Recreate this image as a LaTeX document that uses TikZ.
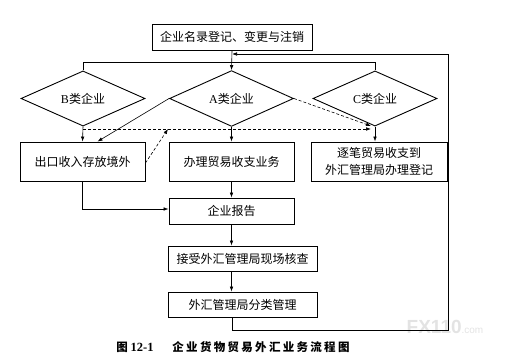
\documentclass[tikz,border=0pt]{standalone}
\usepackage{fontspec}
\setmainfont{Noto Sans CJK SC}
\newfontfamily\lat{Liberation Serif}
\newfontfamily\wm{Liberation Sans}
\usetikzlibrary{shapes.geometric,arrows.meta}
\begin{document}
\begin{tikzpicture}[x=1pt,y=-1pt,
  box/.style={draw,line width=0.9pt,inner sep=0pt,font=\fontsize{12}{17}\selectfont,align=center},
  dia/.style={draw,line width=0.9pt,diamond,inner sep=0pt,minimum width=124pt,minimum height=47pt,font=\fontsize{12}{14}\selectfont},
  conn/.style={line width=0.6pt},
  arr/.style={conn,-{Latex[length=5pt,width=3.6pt]}},
  darr/.style={arr,dash pattern=on 3pt off 2pt}]
\useasboundingbox (0,0) rectangle (511,361);
\node[text=gray!22,font=\wm] (wmk) at (445,327) {{\fontsize{19}{19}\selectfont\bfseries FX110}{\fontsize{10}{10}\selectfont.com}};
\node[box,minimum width=160pt,minimum height=26pt] (top) at (232,37) {企业名录登记、变更与注销};
\node[dia] (B) at (83,98.5) {{\lat B}类企业};
\node[dia] (A) at (231.5,98.5) {{\lat A}类企业};
\node[dia] (C) at (375,98.5) {{\lat C}类企业};
\node[box,minimum width=125pt,minimum height=39pt] (ex) at (82.5,161.5) {出口收入存放境外};
\node[box,minimum width=125pt,minimum height=39pt] (biz) at (231.5,161.5) {办理贸易收支业务};
\node[box,minimum width=136pt,minimum height=39pt] (reg) at (379,161.5) {逐笔贸易收支到\\外汇管理局办理登记};
\node[box,minimum width=125pt,minimum height=26pt] (rep) at (231.5,211) {企业报告};
\node[box,minimum width=149pt,minimum height=25pt] (chk) at (242.5,258.5) {接受外汇管理局现场核查};
\node[box,minimum width=149pt,minimum height=25pt] (mgt) at (242.5,304.5) {外汇管理局分类管理};
\node[font=\fontsize{11.5}{13}\selectfont\bfseries] (capl) at (135,347) {图 {\lat\bfseries\fontsize{12.5}{13}\selectfont 12-1}};
\node[font=\fontsize{11.5}{13}\selectfont\bfseries\addfontfeature{LetterSpace=20}] (capr) at (261,347) {企业货物贸易外汇业务流程图};
% connectors
\coordinate (hb) at (83,62.5);
\draw[conn] (B.north) -- (B.north |- hb) -- (C.north |- hb) -- (C.north);
\draw[arr] (top.south) -- (A.north);
\coordinate (fr1) at (448,330);
\coordinate (fr2) at (448,54);
\draw[arr] (mgt.south -| top.south) -- (top.south |- fr1) -- (fr1) -- (fr2) -- (fr2 -| top.south);
\draw[arr] (B.south) -- (ex.north);
\draw[arr] (A.south) -- (biz.north);
\draw[arr] (C.south) -- (C.south |- reg.north);
\draw[arr] (A.west) -- ([xshift=15pt]ex.north);
\coordinate (dc) at (371,129);
\coordinate (dc2) at (371,126);
\coordinate (dt) at (168,129);
\draw[darr] (B.south |- dc) -- (dc);
\draw[darr] (A.east) -- (dc2);
\draw[darr] ([yshift=-1.5pt]ex.east) -- (dt);
\draw[arr] (ex.south) |- ([yshift=2pt]rep.west);
\draw[arr] (biz.south) -- (rep.north);
\draw[arr] (rep.south) -- (rep.south |- chk.north);
\draw[arr] (rep.south |- chk.south) -- (rep.south |- mgt.north);
\end{tikzpicture}
\end{document}
